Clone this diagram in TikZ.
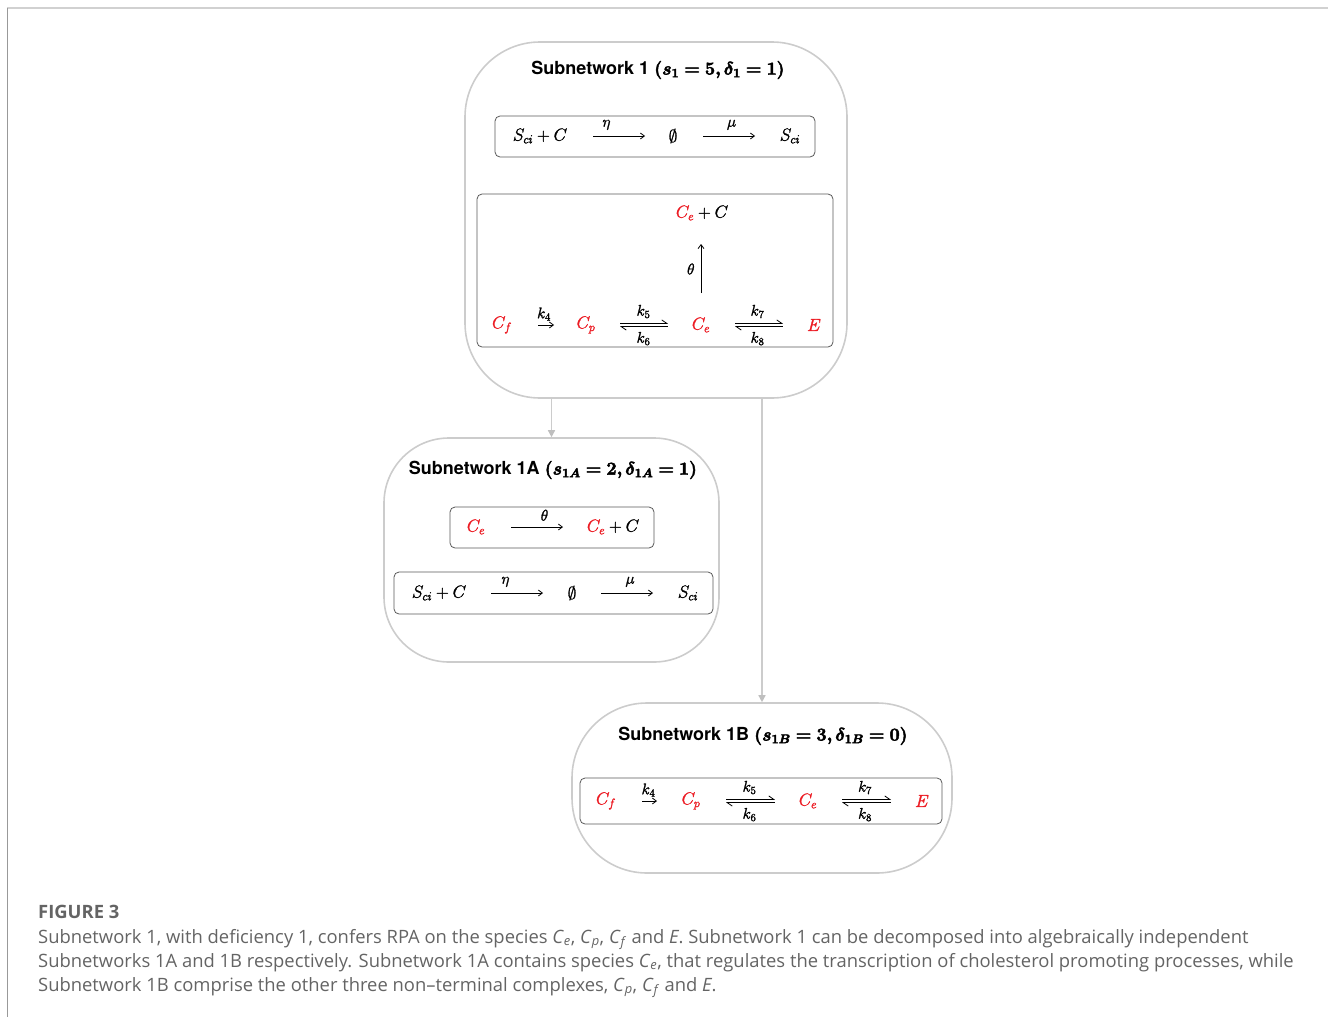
\RequirePackage{fix-cm}
\documentclass[tikz,border=0pt]{standalone}
\usepackage{fontspec}
\usepackage{amsmath,amssymb,bm}
\usetikzlibrary{arrows.meta}
\newfontfamily\headfont{TeX Gyre Heros}
\newfontfamily\capfont{Open Sans}
\definecolor{spred}{RGB}{236,28,36}
\definecolor{capgray}{RGB}{100,100,100}
\newcommand\spc[2]{\textit{#1}\textsubscript{\textit{#2}}}
% glyphs filled and stroked, for a heavier look
\newcommand\strokeon[1]{\special{pdf:literal direct 2 Tr #1 w}}
\newcommand\strokeoff{\special{pdf:literal direct 0 Tr}}
\newcommand\hvmath[1]{\strokeon{0.5}$\bm{#1}$\strokeoff}
\tikzset{
  outerbox/.style={draw=black!20, line width=1.6pt, rounded corners=#1, inner sep=0pt},
  innerbox/.style={draw=black!65, line width=0.8pt, rounded corners=5pt, inner sep=0pt},
  title/.style={font=\headfont\bfseries\fontsize{18}{21}\selectfont, inner sep=0pt},
  thick math/.style={execute at begin node={\strokeon{0.25}}, execute at end node={\strokeoff}},
  sp/.style={inner sep=0pt, font=\fontsize{17.5}{20}\selectfont, thick math},
  spr/.style={sp, text=spred},
  lab/.style={inner sep=0pt, font=\fontsize{15.5}{18}\selectfont, thick math},
  rx/.style={line width=0.8pt, -{Straight Barb[length=4pt,width=6pt]}},
  hup/.style={line width=0.8pt, -{Straight Barb[left,length=5pt,width=7pt]}},
  hdn/.style={line width=0.8pt, {Straight Barb[left,length=5pt,width=7pt]}-},
  link/.style={draw=black!20, line width=1.4pt, -{Triangle[length=7pt,width=7pt,color=black!25,fill=black!25]}},
  capline/.style={anchor=base west, inner sep=0pt, text=capgray, font=\capfont\fontsize{18.4}{21}\selectfont},
}
\begin{document}
\begin{tikzpicture}[x=1pt,y=-1pt]
\useasboundingbox (0,0) rectangle (1328,1017);
% page frame
\draw[black!18, line width=1.6pt] (7,8) -- (1328,8);
\draw[black!40, line width=0.8pt] (7,8) -- (7,1017);

% ---------- Subnetwork 1 ----------
\node[outerbox=75pt, minimum width=382pt, minimum height=356pt] (sub1) at (656,220) {};
\node[title] (t1) at (658,70) {Subnetwork 1 \hvmath{(s_1=5,\delta_1=1)}};
\node[innerbox, minimum width=320pt, minimum height=41pt] (b1) at (655,136.5) {};
\node[sp] (a1) at (540,136) {$S_{ci}+C$};
\node[sp] (a2) at (673,136) {$\emptyset$};
\node[sp] (a3) at (790,136) {$S_{ci}$};
\draw[rx, shorten <=53pt, shorten >=28pt] (a1.center) -- node[lab, above=6pt] {$\eta$} (a2.center);
\draw[rx, shorten <=30pt, shorten >=35pt] (a2.center) -- node[lab, above=6pt] {$\mu$} (a3.center);

\node[innerbox, minimum width=356pt, minimum height=153pt] (b2) at (655,270.5) {};
\node[sp] (c0) at (702,213) {$\textcolor{spred}{C_e}+C$};
\node[spr] (c1) at (502,325) {$C_f$};
\node[spr] (c2) at (586,325) {$C_p$};
\node[spr] (c3) at (701,325) {$C_e$};
\node[spr] (c4) at (814,325) {$E$};
\draw[rx, shorten <=32pt, shorten >=31pt] (c3.center) -- node[lab, left=6pt] {$\theta$} (c3.center |- c0.center);
\draw[rx, shorten <=36pt, shorten >=32pt] (c1.center) -- node[lab, above=4pt] {$k_4$} (c2.center);
\draw[hup, shorten <=34pt, shorten >=33pt] ([yshift=1.6pt]c2.center) -- node[lab, above=5pt] {$k_5$} ([yshift=1.6pt]c3.center);
\draw[hdn, shorten <=34pt, shorten >=33pt] ([yshift=-1.6pt]c2.center) -- node[lab, below=5pt] {$k_6$} ([yshift=-1.6pt]c3.center);
\draw[hup, shorten <=34pt, shorten >=31pt] ([yshift=1.6pt]c3.center) -- node[lab, above=5pt] {$k_7$} ([yshift=1.6pt]c4.center);
\draw[hdn, shorten <=34pt, shorten >=31pt] ([yshift=-1.6pt]c3.center) -- node[lab, below=5pt] {$k_8$} ([yshift=-1.6pt]c4.center);

% ---------- Subnetwork 1A ----------
\node[outerbox=65pt, minimum width=335pt, minimum height=224pt] (sub1a) at (551.5,550) {};
\node[title] (t1a) at (553,470) {Subnetwork 1A \hvmath{(s_{1A}=2,\delta_{1A}=1)}};
\node[innerbox, minimum width=204pt, minimum height=41pt] (b3) at (552,527.5) {};
\node[spr] (d1) at (476,527) {$C_e$};
\node[sp] (d2) at (613,527) {$\textcolor{spred}{C_e}+C$};
\draw[rx, shorten <=35pt, shorten >=50pt] (d1.center) -- node[lab, above=6pt] {$\theta$} (d2.center);
\node[innerbox, minimum width=319pt, minimum height=42pt] (b4) at (553.5,593) {};
\node[sp] (e1) at (439,593) {$S_{ci}+C$};
\node[sp] (e2) at (572,593) {$\emptyset$};
\node[sp] (e3) at (688,593) {$S_{ci}$};
\draw[rx, shorten <=52pt, shorten >=29pt] (e1.center) -- node[lab, above=6pt] {$\eta$} (e2.center);
\draw[rx, shorten <=29pt, shorten >=35pt] (e2.center) -- node[lab, above=6pt] {$\mu$} (e3.center);

% ---------- Subnetwork 1B ----------
\node[outerbox=75pt, minimum width=380pt, minimum height=170pt] (sub1b) at (762,788) {};
\node[title] (t1b) at (763,736) {Subnetwork 1B \hvmath{(s_{1B}=3,\delta_{1B}=0)}};
\node[innerbox, minimum width=362pt, minimum height=46pt] (b5) at (761,801) {};
\node[spr] (f1) at (606,801) {$C_f$};
\node[spr] (f2) at (691,801) {$C_p$};
\node[spr] (f3) at (808,801) {$C_e$};
\node[spr] (f4) at (922,801) {$E$};
\draw[rx, shorten <=36pt, shorten >=34pt] (f1.center) -- node[lab, above=4pt] {$k_4$} (f2.center);
\draw[hup, shorten <=35pt, shorten >=33pt] ([yshift=1.6pt]f2.center) -- node[lab, above=5pt] {$k_5$} ([yshift=1.6pt]f3.center);
\draw[hdn, shorten <=35pt, shorten >=33pt] ([yshift=-1.6pt]f2.center) -- node[lab, below=5pt] {$k_6$} ([yshift=-1.6pt]f3.center);
\draw[hup, shorten <=34pt, shorten >=31pt] ([yshift=1.6pt]f3.center) -- node[lab, above=5pt] {$k_7$} ([yshift=1.6pt]f4.center);
\draw[hdn, shorten <=34pt, shorten >=31pt] ([yshift=-1.6pt]f3.center) -- node[lab, below=5pt] {$k_8$} ([yshift=-1.6pt]f4.center);

% ---------- decomposition links ----------
\draw[link] (sub1a.north |- sub1.south) -- (sub1a.north);
\draw[link] (sub1b.north |- sub1.south) -- (sub1b.north);

% ---------- caption ----------
\node[capline, font=\capfont\bfseries\fontsize{18.4}{21}\selectfont] (cap0) at (38,918) {FIGURE 3};
\node[capline] (cap1) at (38,943) {Subnetwork 1, with deficiency 1, confers RPA on the species \spc{C}{e}, \spc{C}{p}, \spc{C}{f} and \textit{E}. Subnetwork 1 can be decomposed into algebraically independent};
\node[capline] (cap2) at (38,967) {Subnetworks 1A and 1B respectively. Subnetwork 1A contains species \spc{C}{e}, that regulates the transcription of cholesterol promoting processes, while};
\node[capline] (cap3) at (38,991) {Subnetwork 1B comprise the other three non–terminal complexes, \spc{C}{p}, \spc{C}{f} and \textit{E}.};
\end{tikzpicture}
\end{document}
